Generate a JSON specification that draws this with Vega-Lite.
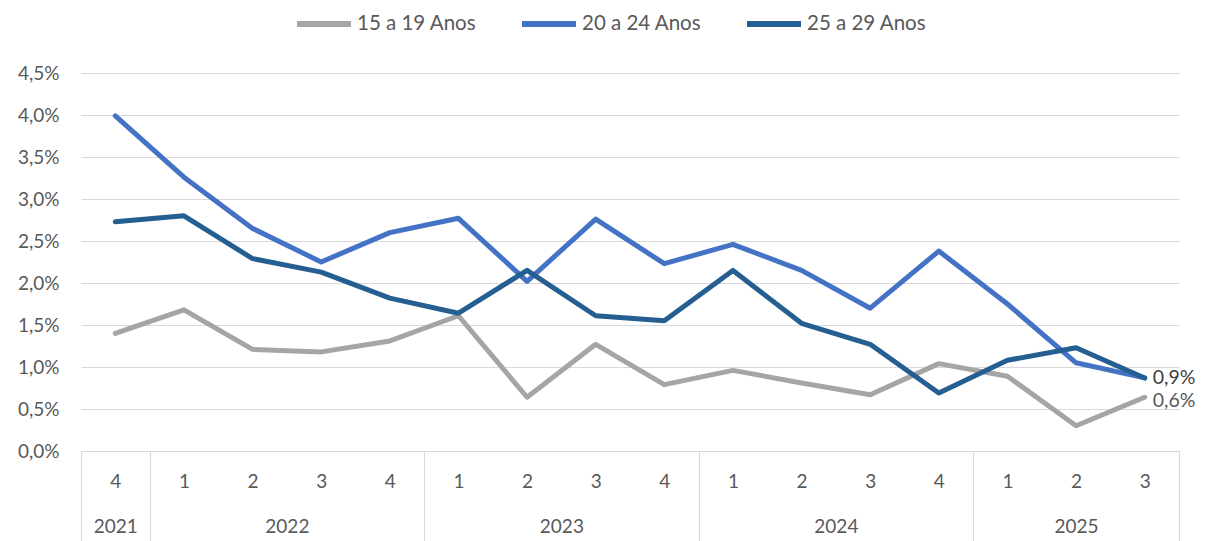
{
  "$schema": "https://vega.github.io/schema/vega-lite/v6.json",
  "width": 1098,
  "height": 378,
  "autosize": "none",
  "padding": {"left": 81, "top": 73, "right": 30, "bottom": 90},
  "background": "white",
  "config": {
    "view": {"stroke": null},
    "font": "Lato",
    "locale": {"number": {"decimal": ",", "thousands": ".", "grouping": [3], "currency": ["", ""]}},
    "axis": {"labelFont": "Lato", "labelFontSize": 19, "labelColor": "#595959"}
  },
  "data": {"values": [
    {"i": 0, "serie": "15 a 19 Anos", "v": 0.0140},
    {"i": 1, "serie": "15 a 19 Anos", "v": 0.0168},
    {"i": 2, "serie": "15 a 19 Anos", "v": 0.0121},
    {"i": 3, "serie": "15 a 19 Anos", "v": 0.0118},
    {"i": 4, "serie": "15 a 19 Anos", "v": 0.0131},
    {"i": 5, "serie": "15 a 19 Anos", "v": 0.0161},
    {"i": 6, "serie": "15 a 19 Anos", "v": 0.0064},
    {"i": 7, "serie": "15 a 19 Anos", "v": 0.0127},
    {"i": 8, "serie": "15 a 19 Anos", "v": 0.0079},
    {"i": 9, "serie": "15 a 19 Anos", "v": 0.0096},
    {"i": 10, "serie": "15 a 19 Anos", "v": 0.0081},
    {"i": 11, "serie": "15 a 19 Anos", "v": 0.0067},
    {"i": 12, "serie": "15 a 19 Anos", "v": 0.0104},
    {"i": 13, "serie": "15 a 19 Anos", "v": 0.0089},
    {"i": 14, "serie": "15 a 19 Anos", "v": 0.0030},
    {"i": 15, "serie": "15 a 19 Anos", "v": 0.0064},
    {"i": 0, "serie": "20 a 24 Anos", "v": 0.0399},
    {"i": 1, "serie": "20 a 24 Anos", "v": 0.0326},
    {"i": 2, "serie": "20 a 24 Anos", "v": 0.0265},
    {"i": 3, "serie": "20 a 24 Anos", "v": 0.0225},
    {"i": 4, "serie": "20 a 24 Anos", "v": 0.0260},
    {"i": 5, "serie": "20 a 24 Anos", "v": 0.0277},
    {"i": 6, "serie": "20 a 24 Anos", "v": 0.0202},
    {"i": 7, "serie": "20 a 24 Anos", "v": 0.0276},
    {"i": 8, "serie": "20 a 24 Anos", "v": 0.0223},
    {"i": 9, "serie": "20 a 24 Anos", "v": 0.0246},
    {"i": 10, "serie": "20 a 24 Anos", "v": 0.0215},
    {"i": 11, "serie": "20 a 24 Anos", "v": 0.0170},
    {"i": 12, "serie": "20 a 24 Anos", "v": 0.0238},
    {"i": 13, "serie": "20 a 24 Anos", "v": 0.0175},
    {"i": 14, "serie": "20 a 24 Anos", "v": 0.0105},
    {"i": 15, "serie": "20 a 24 Anos", "v": 0.0087},
    {"i": 0, "serie": "25 a 29 Anos", "v": 0.0273},
    {"i": 1, "serie": "25 a 29 Anos", "v": 0.0280},
    {"i": 2, "serie": "25 a 29 Anos", "v": 0.0229},
    {"i": 3, "serie": "25 a 29 Anos", "v": 0.0213},
    {"i": 4, "serie": "25 a 29 Anos", "v": 0.0182},
    {"i": 5, "serie": "25 a 29 Anos", "v": 0.0164},
    {"i": 6, "serie": "25 a 29 Anos", "v": 0.0215},
    {"i": 7, "serie": "25 a 29 Anos", "v": 0.0161},
    {"i": 8, "serie": "25 a 29 Anos", "v": 0.0155},
    {"i": 9, "serie": "25 a 29 Anos", "v": 0.0215},
    {"i": 10, "serie": "25 a 29 Anos", "v": 0.0152},
    {"i": 11, "serie": "25 a 29 Anos", "v": 0.0127},
    {"i": 12, "serie": "25 a 29 Anos", "v": 0.0069},
    {"i": 13, "serie": "25 a 29 Anos", "v": 0.0108},
    {"i": 14, "serie": "25 a 29 Anos", "v": 0.0123},
    {"i": 15, "serie": "25 a 29 Anos", "v": 0.0087}
  ]},
  "resolve": {"axis": {"x": "independent"}},
  "layer": [
    {
      "mark": {"type": "line", "strokeWidth": 5, "strokeCap": "round", "strokeJoin": "round"},
      "encoding": {
        "x": {"field": "i", "type": "quantitative",
              "scale": {"domain": [-0.5, 15.5], "nice": false, "zero": false},
              "axis": {"orient": "bottom", "title": null, "values": [0,1,2,3,4,5,6,7,8,9,10,11,12,13,14,15],
                       "labelExpr": "'' + ((datum.value + 3) % 4 + 1)", "grid": false, "ticks": false,
                       "domain": true, "domainColor": "#d9d9d9", "domainWidth": 1,
                       "labelPadding": 21, "labelFlush": false, "labelOverlap": false}},
        "y": {"field": "v", "type": "quantitative",
              "scale": {"domain": [0, 0.045], "nice": false},
              "axis": {"title": null, "values": [0,0.005,0.01,0.015,0.02,0.025,0.03,0.035,0.04,0.045],
                       "format": ".1%", "domain": false, "ticks": false, "labelPadding": 22,
                       "gridColor": "#d9d9d9", "gridWidth": 1}},
        "color": {"field": "serie", "type": "nominal",
                  "scale": {"domain": ["15 a 19 Anos", "20 a 24 Anos", "25 a 29 Anos"],
                            "range": ["#a5a5a5", "#4472c4", "#255e91"]},
                  "legend": {"orient": "none", "direction": "horizontal", "title": null,
                             "legendX": 213, "legendY": -79,
                             "symbolType": "stroke", "symbolSize": 2916, "symbolStrokeWidth": 6,
                             "labelFont": "Lato", "labelFontSize": 20.5, "labelColor": "#595959",
                             "labelOffset": 3, "columnPadding": 33}}
      }
    },
    {
      "transform": [{"filter": "datum.i == 15 && datum.serie == '25 a 29 Anos'"}],
      "mark": {"type": "text", "align": "left", "baseline": "middle", "dx": 8, "dy": 0, "fontSize": 19.5, "font": "Lato", "color": "#404040"},
      "encoding": {
        "x": {"field": "i", "type": "quantitative",
              "axis": {"orient": "bottom", "title": null, "values": [0, 2.5, 6.5, 10.5, 14],
                       "labelExpr": "datum.value < 1 ? '2021' : datum.value < 4 ? '2022' : datum.value < 8 ? '2023' : datum.value < 12 ? '2024' : '2025'",
                       "grid": false, "ticks": false, "domain": false,
                       "labelPadding": 66, "labelFlush": false, "labelOverlap": false}},
        "y": {"field": "v", "type": "quantitative"},
        "text": {"field": "v", "type": "quantitative", "format": ".1%"}
      }
    },
    {
      "transform": [{"filter": "datum.i == 15 && datum.serie == '15 a 19 Anos'"}],
      "mark": {"type": "text", "align": "left", "baseline": "middle", "dx": 8, "dy": 4, "fontSize": 19.5, "font": "Lato", "color": "#595959"},
      "encoding": {
        "x": {"field": "i", "type": "quantitative",
              "axis": {"orient": "bottom", "title": null, "values": [-0.5, 0.5, 4.5, 8.5, 12.5, 15.5],
                       "labels": false, "grid": false, "ticks": true, "tickSize": 90,
                       "tickColor": "#d9d9d9", "tickWidth": 1, "domain": false}},
        "y": {"field": "v", "type": "quantitative"},
        "text": {"field": "v", "type": "quantitative", "format": ".1%"}
      }
    }
  ]
}
